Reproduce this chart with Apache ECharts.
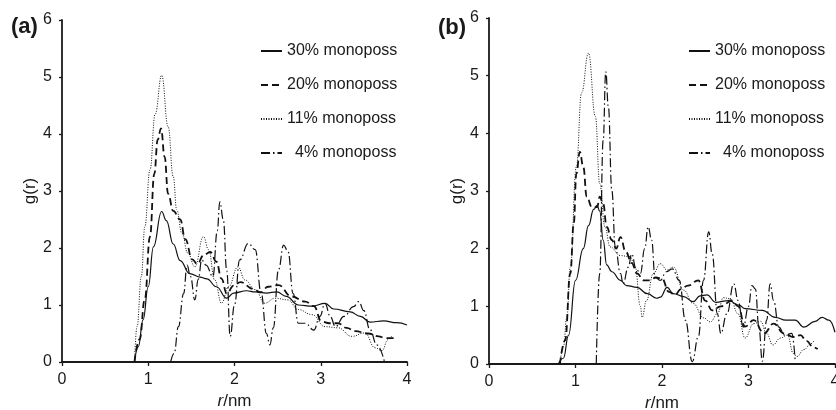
<!DOCTYPE html>
<html>
<head>
<meta charset="utf-8">
<script src="https://cdn.jsdelivr.net/npm/echarts@6/dist/echarts.min.js"></script>
<style>
  html, body { margin: 0; padding: 0; background: #fff; }
  #main { width: 836px; height: 410px; }
</style>
</head>
<body>
<div id="main"></div>
<script>
// series names, shared by both panels
const names = ['30% monoposs', '20% monoposs', '11% monoposs', '4% monoposs'];
const xTicks = [0, 1, 2, 3, 4];
const yTicks = [0, 1, 2, 3, 4, 5, 6];

// panel (a): [r/nm, g(r)]
const a30 = [[0.84,0],[0.885,0.27],[0.94,0.74],[1.0,1.32],[1.06,2.02],[1.155,2.64],[1.21,2.48],[1.29,2.07],[1.37,1.78],[1.48,1.55],[1.6,1.49],[1.68,1.46],[1.79,1.32],[1.91,1.12],[1.99,1.21],[2.14,1.25],[2.24,1.23],[2.37,1.21],[2.49,1.23],[2.6,1.15],[2.74,1.0],[2.9,0.98],[3.05,1.03],[3.15,0.93],[3.34,0.88],[3.46,0.8],[3.57,0.7],[3.73,0.72],[3.88,0.69],[4.0,0.65]];
const a20 = [[0.84,0],[0.9,0.4],[0.96,1.1],[1.02,2.2],[1.07,3.3],[1.11,3.9],[1.148,4.1],[1.19,3.6],[1.23,2.95],[1.29,2.65],[1.37,2.5],[1.43,2.15],[1.51,1.8],[1.57,1.72],[1.64,1.87],[1.72,1.93],[1.79,1.76],[1.85,1.46],[1.91,1.2],[1.99,1.34],[2.07,1.4],[2.22,1.28],[2.3,1.22],[2.39,1.32],[2.51,1.35],[2.66,1.15],[2.82,1.06],[2.92,0.98],[3.01,0.71],[3.1,0.68],[3.2,0.68],[3.3,0.6],[3.4,0.54],[3.55,0.5],[3.67,0.45],[3.75,0.42],[3.86,0.42]];
const a11 = [[0.84,0],[0.87,0.62],[0.92,1.5],[0.96,2.37],[1.02,3.37],[1.08,4.35],[1.156,5.03],[1.23,4.13],[1.29,3.25],[1.33,2.67],[1.39,2.26],[1.46,1.91],[1.54,1.67],[1.64,2.2],[1.70,1.97],[1.77,1.44],[1.85,1.03],[1.93,1.32],[2.04,1.67],[2.12,1.44],[2.24,1.27],[2.35,1.03],[2.47,1.12],[2.62,1.09],[2.74,0.92],[2.9,0.83],[3.05,0.62],[3.2,0.6],[3.36,0.45],[3.51,0.51],[3.63,0.25],[3.71,0.2],[3.78,0.39],[3.82,0.45]];
const a4 = [[1.26,0],[1.3,0.15],[1.35,0.62],[1.41,1.2],[1.45,1.7],[1.49,1.5],[1.54,1.09],[1.58,1.45],[1.62,1.79],[1.67,1.7],[1.75,1.5],[1.8,2.3],[1.83,2.81],[1.87,2.5],[1.91,1.6],[1.95,0.45],[2.0,1.0],[2.06,1.79],[2.16,2.08],[2.24,1.97],[2.31,1.2],[2.37,0.5],[2.41,0.3],[2.45,0.6],[2.51,1.62],[2.57,2.05],[2.62,1.94],[2.68,1.2],[2.74,0.68],[2.82,0.68],[2.92,0.56],[2.99,0.8],[3.05,1.03],[3.11,0.8],[3.17,0.62],[3.27,0.8],[3.38,0.97],[3.44,1.06],[3.5,0.9],[3.57,0.57],[3.65,0.3],[3.74,0]];

// panel (b): [r/nm, g(r)]
const b30 = [[0.8,0],[0.86,0.1],[0.92,0.5],[1.0,1.45],[1.09,2.0],[1.15,2.4],[1.21,2.68],[1.25,2.75],[1.28,2.65],[1.32,2.15],[1.36,1.72],[1.42,1.6],[1.52,1.45],[1.59,1.36],[1.71,1.33],[1.83,1.22],[1.94,1.14],[1.98,1.16],[2.06,1.33],[2.13,1.22],[2.25,1.17],[2.36,1.08],[2.44,1.18],[2.52,1.2],[2.62,1.07],[2.77,1.1],[2.89,1.02],[2.96,0.96],[3.16,0.93],[3.31,0.81],[3.43,0.76],[3.54,0.76],[3.64,0.64],[3.77,0.74],[3.85,0.81],[3.93,0.76],[4.0,0.55]];
const b20 = [[0.82,0],[0.88,0.41],[0.94,1.57],[0.98,2.44],[1.01,3.3],[1.05,3.68],[1.09,3.42],[1.13,2.9],[1.19,2.72],[1.25,2.72],[1.28,2.9],[1.32,2.78],[1.36,2.38],[1.42,2.15],[1.47,2.0],[1.52,2.2],[1.58,1.95],[1.65,1.75],[1.71,1.57],[1.79,1.45],[1.86,1.45],[1.93,1.5],[2.0,1.48],[2.08,1.25],[2.15,1.2],[2.22,1.3],[2.3,1.36],[2.42,1.45],[2.5,1.1],[2.58,0.93],[2.68,1.0],[2.81,1.1],[2.88,1.0],[2.96,0.65],[3.06,0.76],[3.18,0.53],[3.29,0.7],[3.41,0.53],[3.52,0.47],[3.6,0.5],[3.67,0.4],[3.75,0.29],[3.8,0.26]];
const b11 = [[0.82,0],[0.86,0.3],[0.9,0.81],[0.94,1.68],[1.01,3.42],[1.07,4.7],[1.15,5.39],[1.23,4.29],[1.28,3.13],[1.34,2.38],[1.40,2.03],[1.52,1.88],[1.63,1.86],[1.69,1.68],[1.75,1.0],[1.77,0.81],[1.82,1.1],[1.9,1.57],[1.98,1.74],[2.06,1.63],[2.13,1.68],[2.25,1.28],[2.36,1.05],[2.48,0.8],[2.56,0.73],[2.64,0.87],[2.71,1.15],[2.79,1.13],[2.88,0.87],[2.96,0.45],[3.06,0.7],[3.14,0.74],[3.21,0.53],[3.28,0.33],[3.37,0.45],[3.45,0.5],[3.52,0.18],[3.56,0.13],[3.64,0.25],[3.72,0.35],[3.76,0.41]];
const b4 = [[1.24,0],[1.28,1.57],[1.32,3.88],[1.35,5.07],[1.38,4.46],[1.42,3.01],[1.46,2.03],[1.52,1.57],[1.55,1.39],[1.61,1.68],[1.65,1.91],[1.7,1.65],[1.75,1.57],[1.8,2.0],[1.84,2.38],[1.88,2.15],[1.92,1.5],[1.98,1.45],[2.05,1.6],[2.12,1.65],[2.2,1.45],[2.27,0.76],[2.35,0.04],[2.42,0.47],[2.48,1.45],[2.54,2.29],[2.58,1.91],[2.64,0.87],[2.68,0.53],[2.75,0.87],[2.83,1.39],[2.88,1.1],[2.94,0.64],[3.0,1.0],[3.04,1.36],[3.08,1.3],[3.12,0.64],[3.16,0.05],[3.21,0.76],[3.25,1.39],[3.29,1.1],[3.35,0.64],[3.42,0.5],[3.5,0.53],[3.54,0.05]];

const FONT = 'Liberation Sans, Arial, Helvetica, sans-serif';
const INK = '#1a1a1a';
const styles = [
  {width: 1.2, type: 'solid'},
  {width: 1.8, type: [7, 4]},
  {width: 1.0, type: [1, 1.5]},
  {width: 1.2, type: [9, 3, 1.5, 3]}
];

var chartDom = document.getElementById('main');
var myChart = echarts.init(chartDom, null, {renderer: 'canvas'});

function xAx(i) {
  return {
    type: 'value', gridIndex: i, min: xTicks[0], max: xTicks[xTicks.length - 1], interval: 1,
    axisLine: {lineStyle: {color: INK, width: 1.8}},
    axisTick: {length: 4, lineStyle: {color: INK, width: 1.3}},
    axisLabel: {fontFamily: FONT, fontSize: 16, color: INK, margin: 10},
    splitLine: {show: false},
    name: '{i|r}/nm', nameLocation: 'middle', nameGap: 30,
    nameTextStyle: {fontFamily: FONT, fontSize: 17, color: INK,
      rich: {i: {fontFamily: FONT, fontSize: 17, fontStyle: 'italic', color: INK}}}
  };
}
function yAx(i) {
  return {
    type: 'value', gridIndex: i, min: yTicks[0], max: yTicks[yTicks.length - 1], interval: 1,
    axisLine: {show: true, lineStyle: {color: INK, width: 1.8}},
    axisTick: {show: true, length: 3, lineStyle: {color: INK, width: 1.3}},
    axisLabel: {fontFamily: FONT, fontSize: 16, color: INK, margin: 10},
    splitLine: {show: false},
    name: 'g(r)', nameLocation: 'middle', nameGap: 22,
    nameTextStyle: {fontFamily: FONT, fontSize: 17, color: INK}
  };
}
function legendFor(left) {
  return {
    orient: 'vertical', left: left, top: 43, padding: 0, itemGap: 18,
    itemWidth: 21, itemHeight: 14, selectedMode: false,
    itemStyle: {color: 'transparent', borderWidth: 0, opacity: 0},
    textStyle: {fontFamily: FONT, fontSize: 16, color: INK, lineHeight: 16},
    data: [names[0], names[1], names[2], {name: names[3], textStyle: {padding: [0, 0, 0, 8]}}]
  };
}
function seriesFor(i, sets) {
  return sets.map((d, k) => ({
    name: names[k], type: 'line', xAxisIndex: i, yAxisIndex: i, data: d,
    symbol: 'none', smooth: 0.45, smoothMonotone: 'x',
    lineStyle: {color: '#111', width: styles[k].width, type: styles[k].type},
    itemStyle: {color: '#111'}
  }));
}

var option = {
  animation: false,
  backgroundColor: '#fff',
  title: [
    {text: '(a)', left: 6, top: 11, textStyle: {fontFamily: FONT, fontSize: 22, fontWeight: 'bold', color: INK}},
    {text: '(b)', left: 433, top: 12, textStyle: {fontFamily: FONT, fontSize: 22, fontWeight: 'bold', color: INK}}
  ],
  grid: [
    {left: 62, top: 20, width: 345, height: 342, outerBoundsMode: 'none'},
    {left: 489, top: 18, width: 346, height: 346, outerBoundsMode: 'none'}
  ],
  xAxis: [xAx(0), xAx(1)],
  yAxis: [yAx(0), yAx(1)],
  legend: [legendFor(260), legendFor(688)],
  series: seriesFor(0, [a30, a20, a11, a4]).concat(seriesFor(1, [b30, b20, b11, b4]))
};

option && myChart.setOption(option);
</script>
</body>
</html>
